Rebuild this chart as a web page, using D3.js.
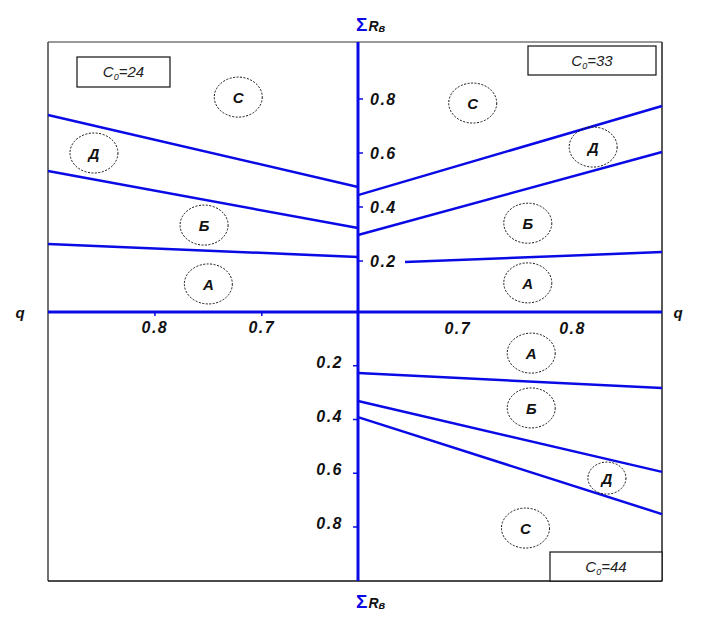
<!DOCTYPE html>
<html>
<head>
<meta charset="utf-8">
<script src="https://cdn.jsdelivr.net/npm/d3@7"></script>
<style>
html,body{margin:0;padding:0;background:#fff;}
svg{display:block;}
</style>
</head>
<body>
<svg id="chart" width="710" height="625"></svg>
<script>
// ---------- data ----------
const qTicksLeft = [0.8, 0.7];
const qTicksRight = [0.7, 0.8];
const rTicksUp = [0.2, 0.4, 0.6, 0.8];
const rTicksDown = [0.2, 0.4, 0.6, 0.8];

// boundary lines: [q, ΣRв] endpoints
const linesUpLeft = [   // C0 = 24
  [[0.90, 0.741], [0.61, 0.474]],
  [[0.90, 0.533], [0.61, 0.322]],
  [[0.90, 0.263], [0.61, 0.215]]
];
const linesUpRight = [  // C0 = 33
  [[0.613, 0.444], [0.878, 0.774]],
  [[0.613, 0.296], [0.878, 0.604]],
  [[0.654, 0.196], [0.878, 0.233]]
];
const linesDownRight = [ // C0 = 44
  [[0.613, 0.227], [0.878, 0.283]],
  [[0.613, 0.331], [0.878, 0.595]],
  [[0.613, 0.391], [0.878, 0.752]]
];

// zone labels: [letter, q, ΣRв]
const zonesUpLeft = [["С", 0.722, 0.807], ["Д", 0.857, 0.600], ["Б", 0.754, 0.333], ["А", 0.750, 0.115]];
const zonesUpRight = [["С", 0.713, 0.785], ["Д", 0.818, 0.622], ["Б", 0.761, 0.340], ["А", 0.761, 0.119]];
const zonesDownRight = [["А", 0.764, 0.153], ["Б", 0.764, 0.357], ["Д", 0.830, 0.618], ["С", 0.759, 0.804]];

const c0Labels = ["24", "33", "44"];

// ---------- layout ----------
const frame = {x0: 48, x1: 662, y0: 42, y1: 581};
const blue = "#0a0ae6";
const svg = d3.select("#chart");

const xLeft = d3.scaleLinear().domain([0.61, 0.90]).range([358, frame.x0]);
const xRight = d3.scaleLinear().domain([0.613, 0.878]).range([358, frame.x1]);
const yUp = d3.scaleLinear().domain([0, 0.8]).range([315, 99]);
const yDown = d3.scaleLinear().domain([0, 0.8]).range([312, 527]);

const axX = xLeft(0.61);
const axY = yDown(0);

// frame
svg.append("line").attr("x1", frame.x0).attr("x2", frame.x1).attr("y1", frame.y0).attr("y2", frame.y0)
  .attr("stroke", "#777").attr("stroke-width", 1.5);
svg.append("line").attr("x1", frame.x0).attr("x2", frame.x0).attr("y1", frame.y0).attr("y2", frame.y1)
  .attr("stroke", "#444").attr("stroke-width", 1.5);
svg.append("line").attr("x1", frame.x1).attr("x2", frame.x1).attr("y1", frame.y0).attr("y2", frame.y1)
  .attr("stroke", "#222").attr("stroke-width", 1.5);
svg.append("line").attr("x1", frame.x0).attr("x2", frame.x1).attr("y1", frame.y1).attr("y2", frame.y1)
  .attr("stroke", "#111").attr("stroke-width", 1.5);

// C0 boxes
function c0Box(x, y, w, h, val) {
  svg.append("rect").attr("x", x).attr("y", y).attr("width", w).attr("height", h)
    .attr("fill", "#fff").attr("stroke", "#111").attr("stroke-width", 1.2);
  const t = svg.append("text").attr("x", x + w / 2).attr("y", y + h / 2 + 5)
    .attr("text-anchor", "middle").attr("font-family", "Liberation Sans, Arial, sans-serif")
    .attr("font-style", "italic").attr("font-size", 15).attr("fill", "#222");
  t.append("tspan").text("C");
  t.append("tspan").attr("font-size", 9).attr("dy", 3).text("0");
  t.append("tspan").attr("dy", -3).text("=" + val);
}
c0Box(77, 57, 93, 30, c0Labels[0]);
c0Box(528, 46, 128, 29, c0Labels[1]);
c0Box(550, 552, 112, 29, c0Labels[2]);

// axes lines
svg.append("line").attr("x1", frame.x0).attr("x2", frame.x1).attr("y1", axY).attr("y2", axY)
  .attr("stroke", blue).attr("stroke-width", 3);
svg.append("line").attr("x1", axX).attr("x2", axX).attr("y1", frame.y0).attr("y2", frame.y1)
  .attr("stroke", blue).attr("stroke-width", 3);

const tickFont = "Liberation Sans, Arial, sans-serif";
function tickText(sel) {
  sel.attr("font-family", tickFont).attr("font-weight", "bold").attr("font-style", "italic")
    .attr("font-size", 16).attr("letter-spacing", 1.5).attr("fill", "#111");
}

// upper-right ΣRв ticks
rTicksUp.forEach(v => {
  svg.append("line").attr("x1", axX).attr("x2", axX + 5).attr("y1", yUp(v)).attr("y2", yUp(v))
    .attr("stroke", blue).attr("stroke-width", 1.5);
  svg.append("text").attr("x", 370).attr("y", yUp(v) + 6).text(d3.format(".1f")(v)).call(tickText);
});
// lower ΣRв ticks
rTicksDown.forEach(v => {
  svg.append("line").attr("x1", axX - 5).attr("x2", axX).attr("y1", yDown(v)).attr("y2", yDown(v))
    .attr("stroke", blue).attr("stroke-width", 1.5);
  svg.append("text").attr("x", 343).attr("y", yDown(v) + 2).attr("text-anchor", "end")
    .text(d3.format(".1f")(v)).call(tickText);
});
// q ticks left (upper)
qTicksLeft.forEach(v => {
  svg.append("line").attr("x1", xLeft(v)).attr("x2", xLeft(v)).attr("y1", axY).attr("y2", axY + 4)
    .attr("stroke", blue).attr("stroke-width", 1.5);
  svg.append("text").attr("x", xLeft(v)).attr("y", axY + 21).attr("text-anchor", "middle")
    .text(d3.format(".1f")(v)).call(tickText);
});
// q ticks right (lower)
qTicksRight.forEach(v => {
  svg.append("text").attr("x", xRight(v)).attr("y", axY + 22).attr("text-anchor", "middle")
    .text(d3.format(".1f")(v)).call(tickText);
});

// axis titles
function qLabel(x) {
  svg.append("text").attr("x", x).attr("y", axY + 6).attr("text-anchor", "middle")
    .attr("font-family", tickFont).attr("font-weight", "bold").attr("font-style", "italic")
    .attr("font-size", 15).attr("fill", "#111").text("q");
}
qLabel(20);
qLabel(678);

function rLabel(y) {
  const t = svg.append("text").attr("x", axX - 2).attr("y", y)
    .attr("font-family", tickFont).attr("font-weight", "bold");
  t.append("tspan").attr("fill", blue).attr("font-size", 19).text("Σ");
  t.append("tspan").attr("fill", "#111").attr("font-style", "italic").attr("font-size", 14).attr("dx", 1).text("R");
  t.append("tspan").attr("fill", "#111").attr("font-style", "italic").attr("font-size", 11).attr("dy", 1).text("в");
}
rLabel(31);
rLabel(608);

// boundary lines
const lineUL = d3.line().x(d => xLeft(d[0])).y(d => yUp(d[1]));
const lineUR = d3.line().x(d => xRight(d[0])).y(d => yUp(d[1]));
const lineDR = d3.line().x(d => xRight(d[0])).y(d => yDown(d[1]));
function drawLines(data, gen) {
  svg.append("g").selectAll("path").data(data).join("path")
    .attr("d", gen).attr("fill", "none").attr("stroke", blue).attr("stroke-width", 2.5);
}
drawLines(linesUpLeft, lineUL);
drawLines(linesUpRight, lineUR);
drawLines(linesDownRight, lineDR);

// zone markers
function drawZones(data, xs, ys) {
  const g = svg.append("g").selectAll("g").data(data).join("g")
    .attr("transform", d => `translate(${xs(d[1])},${ys(d[2])})`);
  g.append("ellipse").attr("rx", d => d[0] === "Д" && ys === yDown ? 19 : 24)
    .attr("ry", d => d[0] === "Д" && ys === yDown ? 16 : 20)
    .attr("fill", "none").attr("stroke", "#111").attr("stroke-width", 1).attr("stroke-dasharray", "2,1.5");
  g.append("text").attr("text-anchor", "middle").attr("y", 6)
    .attr("font-family", tickFont).attr("font-weight", "bold").attr("font-style", "italic")
    .attr("font-size", 15).attr("fill", "#111").text(d => d[0]);
}
drawZones(zonesUpLeft, xLeft, yUp);
drawZones(zonesUpRight, xRight, yUp);
drawZones(zonesDownRight, xRight, yDown);
</script>
</body>
</html>
